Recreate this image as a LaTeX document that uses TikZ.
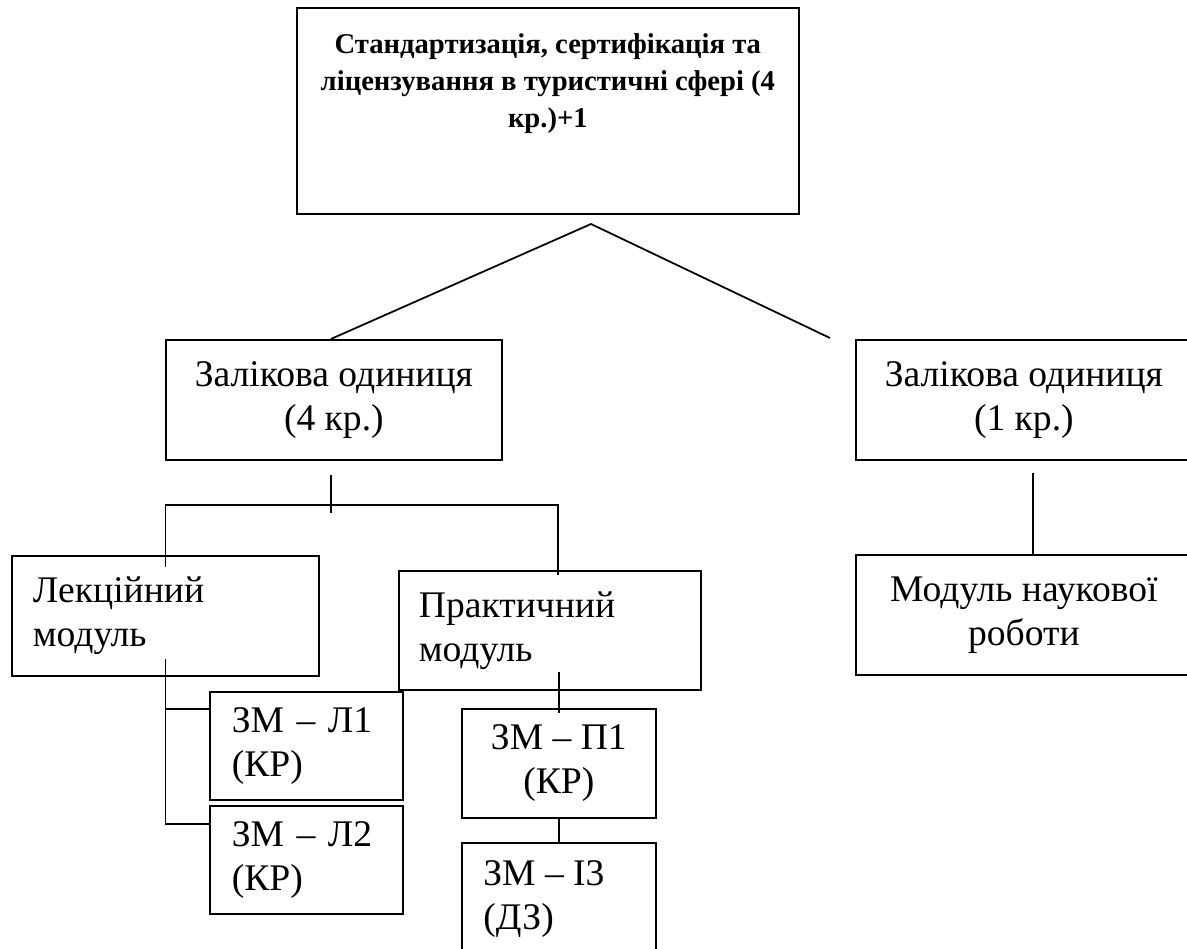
\documentclass[tikz,border=0pt]{standalone}
\usepackage{fontspec}
\setmainfont{Liberation Serif}
\usetikzlibrary{calc}

\tikzset{
  box/.style 2 args={draw, line width=1pt, anchor=north west, inner sep=0pt,
    minimum width=#1*0.02cm, minimum height=#2*0.02cm},
  txt/.style={font=\fontsize{21.4}{25}\selectfont},
  titletxt/.style={font=\fontsize{16.3}{21}\selectfont\bfseries, align=center, inner sep=0pt},
  link/.style={line width=1pt},
}

\begin{document}
\begin{tikzpicture}[x=0.02cm,y=-0.02cm]
  \useasboundingbox (0,0) rectangle (1187,948);
  \clip (0,0) rectangle (1187,948);

  % discipline
  \node[box={502}{206}] (top) at (296,7) {};
  \node[titletxt, anchor=north] (toptitle) at ($(top.north)+(0,26)$)
    {Стандартизація, сертифікація та\\ліцензування в туристичні сфері (4\\кр.)+1};

  % credit units
  \node[box={336}{120}, txt, align=center] (zal4) at (165,339) {Залікова одиниця\\(4 кр.)};
  \node[box={336}{120}, txt, align=center] (zal1) at (855,339) {Залікова одиниця\\(1 кр.)};

  % modules
  \node[box={307}{120}, txt, align=left, text width=5.3cm] (lect) at (11,555) {Лекційний\\модуль};
  \node[box={302}{119}, txt, align=left, text width=5.24cm] (prac) at (398,570) {Практичний\\модуль};
  \node[box={336}{120}, txt, align=center] (nauk) at (855,554) {Модуль наукової\\роботи};

  % content modules
  \node[box={193}{108}, txt, align=left, text width=2.98cm] (zml1) at (209,691) {ЗМ – Л1\\(КР)};
  \node[box={193}{108}, txt, align=left, text width=2.98cm] (zml2) at (209,805) {ЗМ – Л2\\(КР)};
  \node[box={194}{109}, txt, align=center] (zmp1) at (461,708) {ЗМ – П1\\(КР)};
  \node[box={194}{130}] (zmi3) at (461,842) {};
  \node[txt, align=left, anchor=north west, inner sep=0pt] (zmi3txt) at ($(zmi3.north west)+(22,18)$) {ЗМ – І3\\(ДЗ)};

  \coordinate (apex) at (591,224);
  \coordinate (rend) at (830,338);
  \coordinate (fork) at (330,505);

  \draw[link] ($(zal4.north)+(-3,0)$) -- (apex) -- (rend);
  \draw[link] ($(zal4.south)+(-3,14)$) -- ($(zal4.south)+(-3,52)$);
  \draw[link] ($(lect.north)+(0,12)$) |- (fork) -| ($(prac.north west)+(160,5)$);
  \draw[link] ($(lect.south)+(0,-18)$) |- ($(zml1.north west)+(0,18)$);
  \draw[link] ($(lect.south)+(0,-18)$) |- ($(zml2.north west)+(0,19)$);
  \draw[link] ($(zmp1.north)+(0,-36)$) -- ($(zmp1.north)+(0,5)$);
  \draw[link] (zmp1.south) -- (zmi3.north);
  \draw[link] ($(nauk.north)+(9,-81)$) -- ($(nauk.north)+(9,0)$);
\end{tikzpicture}
\end{document}
